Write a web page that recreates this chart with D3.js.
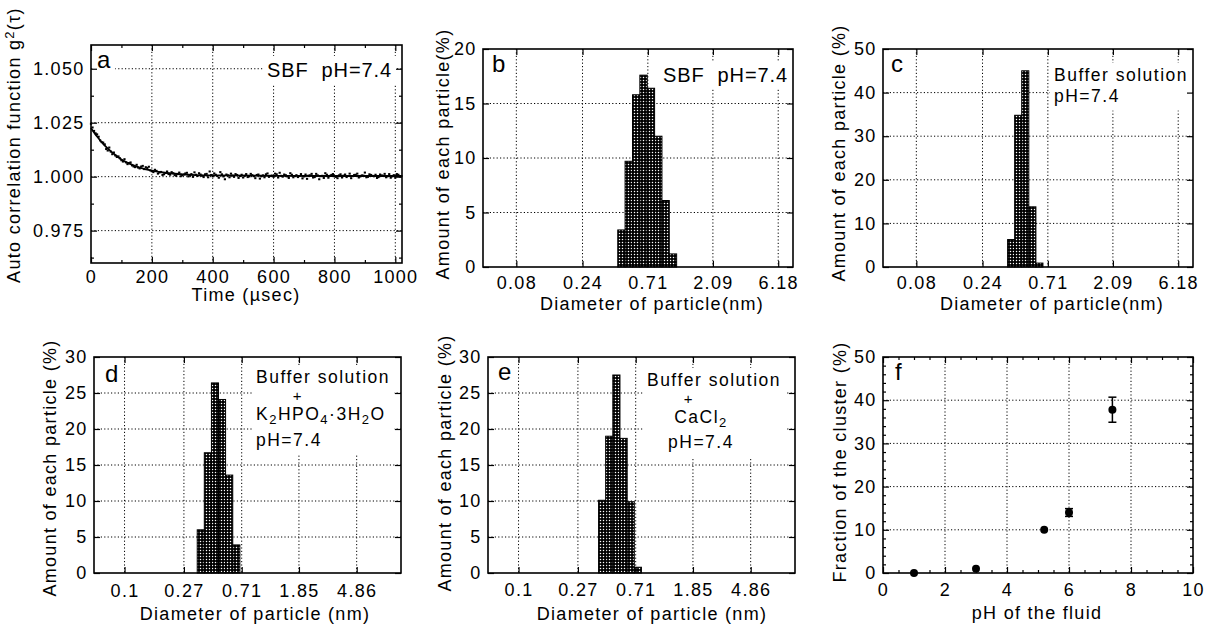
<!DOCTYPE html>
<html>
<head>
<meta charset="utf-8">
<script src="https://cdn.jsdelivr.net/npm/d3@7"></script>
<style>
body { margin: 0; background: #fff; }
text { font-family: "Liberation Sans", Arial, sans-serif; fill: #000; }
</style>
</head>
<body>
<div id="chart"></div>
<script>
var width = 1206,
    height = 629;

// ---- panel a : auto correlation (two interleaved sample sets) ----
var timeUsA = [0, 10, 20, 30, 40, 50, 60, 70, 80, 90, 100, 110, 120, 130, 140, 150, 160, 170, 180, 190,
    200, 210, 220, 230, 240, 250, 260, 270, 280, 290, 300, 310, 320, 330, 340, 350, 360, 370, 380, 390,
    400, 410, 420, 430, 440, 450, 460, 470, 480, 490, 500, 510, 520, 530, 540, 550, 560, 570, 580, 590,
    600, 610, 620, 630, 640, 650, 660, 670, 680, 690, 700, 710, 720, 730, 740, 750, 760, 770, 780, 790,
    800, 810, 820, 830, 840, 850, 860, 870, 880, 890, 900, 910, 920, 930, 940, 950, 960, 970, 980, 990,
    1000, 1010, 1020];
var g2ValuesA = [1.0245, 1.0212, 1.0196, 1.0168, 1.0158, 1.0128, 1.0135, 1.0104, 1.0098, 1.0094,
    1.0076, 1.0081, 1.0058, 1.0066, 1.0047, 1.0055, 1.0038, 1.0050, 1.0044, 1.0046,
    1.0025, 1.0032, 1.0014, 1.0022, 1.0011, 1.0024, 1.0009, 1.0016, 1.0004, 1.0019,
    1.0006, 1.0015, 1.0001, 1.0012, 1.0020, 1.0003, 1.0010, 0.9998, 1.0013, 1.0024,
    1.0002, 1.0009, 0.9995, 1.0011, 0.9988, 1.0006, 1.0014, 0.9999, 1.0008, 1.0003,
    0.9996, 1.0012, 1.0001, 1.0007, 0.9993, 1.0010, 1.0002, 0.9997, 1.0015, 1.0004,
    0.9999, 1.0011, 1.0018, 1.0000, 1.0007, 0.9994, 1.0009, 1.0003, 0.9998, 1.0012,
    1.0001, 0.9990, 1.0006, 0.9996, 1.0013, 0.9988, 1.0004, 1.0016, 0.9995, 1.0008,
    1.0002, 0.9993, 1.0011, 1.0005, 0.9998, 1.0014, 1.0003, 1.0009, 0.9996, 1.0006,
    1.0019, 0.9999, 1.0008, 1.0002, 0.9994, 1.0010, 1.0004, 0.9997, 1.0012, 1.0001,
    0.9995, 1.0009, 1.0003];
var timeUsB = [5, 15, 25, 35, 45, 55, 65, 75, 85, 95, 105, 115, 125, 135, 145, 155, 165, 175, 185, 195,
    205, 215, 225, 235, 245, 255, 265, 275, 285, 295, 305, 315, 325, 335, 345, 355, 365, 375, 385, 395,
    405, 415, 425, 435, 445, 455, 465, 475, 485, 495, 505, 515, 525, 535, 545, 555, 565, 575, 585, 595,
    605, 615, 625, 635, 645, 655, 665, 675, 685, 695, 705, 715, 725, 735, 745, 755, 765, 775, 785, 795,
    805, 815, 825, 835, 845, 855, 865, 875, 885, 895, 905, 915, 925, 935, 945, 955, 965, 975, 985, 995,
    1005, 1015];
var g2ValuesB = [1.0228, 1.0201, 1.0185, 1.0160, 1.0150, 1.0121, 1.0116, 1.0112, 1.0091, 1.0085,
    1.0070, 1.0066, 1.0063, 1.0052, 1.0044, 1.0042, 1.0047, 1.0035, 1.0040, 1.0029,
    1.0021, 1.0027, 1.0019, 1.0008, 1.0017, 1.0012, 1.0021, 1.0007, 1.0013, 1.0002,
    1.0010, 1.0018, 1.0005, 0.9999, 1.0009, 1.0016, 1.0004, 1.0011, 0.9997, 1.0008,
    1.0015, 1.0003, 1.0021, 1.0001, 1.0010, 0.9997, 1.0005, 1.0012, 0.9994, 1.0009,
    1.0004, 0.9998, 1.0013, 1.0002, 1.0008, 0.9991, 1.0006, 1.0011, 0.9999, 1.0005,
    1.0014, 0.9996, 1.0004, 1.0010, 1.0001, 1.0016, 0.9997, 1.0007, 1.0003, 0.9992,
    1.0010, 1.0005, 1.0013, 0.9998, 1.0006, 1.0002, 0.9994, 1.0009, 1.0004, 1.0012,
    0.9999, 1.0006, 0.9996, 1.0010, 1.0003, 0.9993, 1.0008, 1.0014, 1.0001, 1.0005,
    0.9997, 1.0011, 1.0004, 1.0009, 0.9998, 1.0006, 1.0013, 1.0002, 0.9995, 1.0007,
    1.0012, 1.0000];
var fitTimeUs = [0, 20, 40, 60, 80, 100, 130, 160, 200, 250, 300, 400, 600, 800, 1020];
var fitG2 = [1.0225, 1.0186, 1.0152, 1.0124, 1.0100, 1.0080, 1.0058, 1.0042, 1.0028, 1.0017, 1.0011, 1.0006, 1.0004, 1.0003, 1.0003];
var timeTicks = [0, 200, 400, 600, 800, 1000];
var g2Ticks = [0.975, 1.000, 1.025, 1.050];

// ---- panels b-e : size distributions ----
var diamB = [0.458, 0.517, 0.585, 0.661, 0.747, 0.844, 0.953, 1.077];
var amountB = [3.4, 9.7, 15.8, 17.6, 16.4, 12.0, 6.1, 1.2];
var diamC = [0.386, 0.434, 0.488, 0.549, 0.617];
var amountC = [6.3, 34.8, 45.0, 13.8, 0.9];
var diamD = [0.358, 0.403, 0.454, 0.511, 0.576, 0.649];
var amountD = [6.0, 16.7, 26.4, 24.1, 13.6, 3.9];
var diamE = [0.405, 0.456, 0.514, 0.580, 0.653, 0.736];
var amountE = [10.1, 19.0, 27.5, 18.7, 9.9, 0.8];
var diamTicksBC = [0.08, 0.24, 0.71, 2.09, 6.18];
var diamTicksDE = [0.1, 0.27, 0.71, 1.85, 4.86];

// ---- panel f : cluster fraction vs pH ----
var phValues = [1.0, 3.0, 5.2, 6.0, 7.4];
var clusterPct = [0, 1, 10, 14, 37.8];
var clusterErr = [0, 0, 0, 0.9, 2.9];

var FONT = 18,
    SPACING = "1.3px",
    NOTE = 17.5,
    NOTE_SPACING = "1.5px";

var svg = d3.select("#chart")
    .append("svg")
    .attr("width", width)
    .attr("height", height);

var pat = svg.append("defs")
    .append("pattern")
    .attr("id", "dots")
    .attr("patternUnits", "userSpaceOnUse")
    .attr("width", 3)
    .attr("height", 3);
pat.append("rect").attr("width", 3).attr("height", 3).attr("fill", "#000");
pat.append("circle").attr("cx", 1.5).attr("cy", 1.5).attr("r", 0.75).attr("fill", "#fff");

var boxes = {
    a: { left: 91, top: 45, w: 311, h: 218, xPad: 7.5 },
    b: { left: 483, top: 49, w: 310, h: 218, xPad: 9.5 },
    c: { left: 883, top: 49, w: 310, h: 218, xPad: 9.5 },
    d: { left: 94, top: 357, w: 307, h: 216, xPad: 11 },
    e: { left: 488, top: 357, w: 307, h: 216, xPad: 10.5 },
    f: { left: 883, top: 357, w: 310, h: 216, xPad: 10.5 }
};

function panel(box) {
    return svg.append("g").attr("transform", `translate(${box.left},${box.top})`);
}

function styleAxis(sel) {
    sel.attr("font-size", null).attr("font-family", null);
    sel.select(".domain").remove();
    sel.selectAll("line").attr("stroke", "#000").attr("stroke-width", 1.2);
    sel.selectAll("text")
        .style("font-size", FONT + "px")
        .attr("letter-spacing", SPACING)
        .attr("fill", "#000");
}

function drawGrid(g, box, x, y, xGrid, yGrid) {
    var grid = g.append("g");
    grid.selectAll("line.v").data(xGrid).enter().append("line")
        .attr("x1", d => x(d)).attr("x2", d => x(d))
        .attr("y1", 0).attr("y2", box.h)
        .attr("stroke", "#000").attr("stroke-width", 1)
        .attr("stroke-dasharray", "1.2,2.2");
    grid.selectAll("line.h").data(yGrid).enter().append("line")
        .attr("x1", 0).attr("x2", box.w)
        .attr("y1", d => y(d)).attr("y2", d => y(d))
        .attr("stroke", "#000").attr("stroke-width", 1)
        .attr("stroke-dasharray", "1.2,2.2");
}

function drawFrame(g, box, x, y, o) {
    var bottom = g.append("g").attr("transform", `translate(0,${box.h})`)
        .call(d3.axisBottom(x).tickValues(o.xTicks).tickSize(-6).tickPadding(box.xPad).tickFormat(o.xFmt));
    styleAxis(bottom);
    var left = g.append("g")
        .call(d3.axisLeft(y).tickValues(o.yTicks).tickSize(-6).tickPadding(6.5).tickFormat(o.yFmt));
    styleAxis(left);
    var top = g.append("g")
        .call(d3.axisTop(x).tickValues(o.xTicks).tickSize(-6).tickFormat(""));
    styleAxis(top);
    var right = g.append("g").attr("transform", `translate(${box.w},0)`)
        .call(d3.axisRight(y).tickValues(o.yTicks).tickSize(-6).tickFormat(""));
    styleAxis(right);

    if (o.xMinor) {
        [[d3.axisBottom, box.h], [d3.axisTop, 0]].forEach(function (p) {
            var m = g.append("g").attr("transform", `translate(0,${p[1]})`)
                .call(p[0](x).tickValues(o.xMinor).tickSize(-3).tickFormat(""));
            styleAxis(m);
        });
    }
    if (o.yMinor) {
        [[d3.axisLeft, 0], [d3.axisRight, box.w]].forEach(function (p) {
            var m = g.append("g").attr("transform", `translate(${p[1]},0)`)
                .call(p[0](y).tickValues(o.yMinor).tickSize(-3).tickFormat(""));
            styleAxis(m);
        });
    }

    g.append("rect")
        .attr("width", box.w).attr("height", box.h)
        .attr("fill", "none").attr("stroke", "#000").attr("stroke-width", 1.6);
}

// text made of parts: [string, shift] with shift 0 normal, 1 subscript, -1 superscript
function richText(g, x, y, parts, anchor, size, bg, spacing) {
    var t = g.append("text")
        .attr("x", x).attr("y", y)
        .attr("text-anchor", anchor || "start")
        .style("font-size", (size || FONT) + "px")
        .style("white-space", "pre")
        .attr("letter-spacing", spacing || "0.9px");
    parts.forEach(function (p) {
        var s = t.append("tspan").text(p[0]);
        if (p[1] == 1) s.attr("baseline-shift", "-30%").style("font-size", Math.round((size || FONT) * 0.75) + "px");
        if (p[1] == -1) s.attr("baseline-shift", "45%").style("font-size", Math.round((size || FONT) * 0.7) + "px");
    });
    if (bg) {
        var b = t.node().getBBox();
        g.insert("rect", function () { return t.node(); })
            .attr("x", b.x - 4).attr("y", b.y - 3)
            .attr("width", b.width + 8).attr("height", b.height + 6)
            .attr("fill", "#fff");
    }
    return t;
}

// several lines of notes sharing one white box that hides the grid
function noteBlock(g, lines) {
    var ann = g.append("g");
    var bgRect = ann.append("rect").attr("fill", "#fff");
    lines.forEach(function (l) {
        richText(ann, l.x, l.y, l.parts, l.anchor, l.size || NOTE, false, NOTE_SPACING);
    });
    var bb = ann.node().getBBox();
    bgRect.attr("x", bb.x - 4).attr("y", bb.y - 2).attr("width", bb.width + 8).attr("height", bb.height + 7);
}

function axisTitle(x, y, parts, rotate) {
    var g = svg.append("g").attr("transform", `translate(${x},${y})` + (rotate ? " rotate(-90)" : ""));
    richText(g, 0, 0, parts, "middle", FONT, false, SPACING).attr("dy", "0.36em");
}

function drawBars(g, x, y, diam, amount, ratio) {
    var half = Math.sqrt(ratio);
    g.append("g").selectAll("rect")
        .data(diam.map((d, i) => ({ d: d, v: amount[i] })))
        .enter().append("rect")
        .attr("x", p => x(p.d / half))
        .attr("width", p => x(p.d * half) - x(p.d / half))
        .attr("y", p => y(p.v))
        .attr("height", p => y(0) - y(p.v))
        .attr("fill", "url(#dots)")
        .attr("stroke", "#000")
        .attr("stroke-width", 1);
}

var fmtDiam = d => String(d);

// ---------- panel a ----------
(function () {
    var box = boxes.a;
    var g = panel(box);
    var x = d3.scaleLinear().domain([0, 1022]).range([0, box.w]);
    var y = d3.scaleLinear().domain([0.96, 1.061]).range([box.h, 0]);
    drawGrid(g, box, x, y, timeTicks.slice(1), g2Ticks);

    var pts = timeUsA.map((t, i) => [t, g2ValuesA[i]])
        .concat(timeUsB.map((t, i) => [t, g2ValuesB[i]]))
        .filter(d => d[1] !== undefined);
    g.append("g").selectAll("rect")
        .data(pts)
        .enter().append("rect")
        .attr("x", d => x(d[0]) - 1.1)
        .attr("y", d => y(d[1]) - 1)
        .attr("width", 2.2).attr("height", 2)
        .attr("fill", "#000");

    var line = d3.line().curve(d3.curveMonotoneX).x(d => x(d[0])).y(d => y(d[1]));
    g.append("path")
        .datum(fitTimeUs.map((t, i) => [t, fitG2[i]]))
        .attr("d", line)
        .attr("fill", "none").attr("stroke", "#000").attr("stroke-width", 1.8);

    richText(g, 6, 23, [["a", 0]], "start", 24, true);
    richText(g, 301, 32, [["SBF  pH=7.4", 0]], "end", 20, true);

    drawFrame(g, box, x, y, {
        xTicks: timeTicks, yTicks: g2Ticks,
        xMinor: [100, 300, 500, 700, 900],
        yMinor: [0.9625, 0.9875, 1.0125, 1.0375],
        xFmt: d => String(d), yFmt: d3.format(".3f")
    });
    axisTitle(246, 295, [["Time (\u00b5sec)", 0]], false);
    axisTitle(14, 145, [["Auto correlation function g", 0], ["2", -1], ["(\u03c4)", 0]], true);
})();

// ---------- panel b ----------
(function () {
    var box = boxes.b;
    var g = panel(box);
    var x = d3.scaleLog().domain([0.046, 7.9]).range([0, box.w]);
    var y = d3.scaleLinear().domain([0, 20]).range([box.h, 0]);
    drawGrid(g, box, x, y, diamTicksBC, [5, 10, 15]);
    drawBars(g, x, y, diamB, amountB, 1.130);
    richText(g, 9, 23, [["b", 0]], "start", 24, true);
    richText(g, 305, 33, [["SBF  pH=7.4", 0]], "end", 20, true);
    drawFrame(g, box, x, y, {
        xTicks: diamTicksBC, yTicks: [0, 5, 10, 15, 20],
        xFmt: fmtDiam, yFmt: d => String(d)
    });
    axisTitle(652, 304, [["Diameter of particle(nm)", 0]], false);
    axisTitle(443, 154, [["Amount of each particle(%)", 0]], true);
})();

// ---------- panel c ----------
(function () {
    var box = boxes.c;
    var g = panel(box);
    var x = d3.scaleLog().domain([0.046, 7.9]).range([0, box.w]);
    var y = d3.scaleLinear().domain([0, 50]).range([box.h, 0]);
    drawGrid(g, box, x, y, diamTicksBC, [10, 20, 30, 40]);
    drawBars(g, x, y, diamC, amountC, 1.125);
    richText(g, 8, 23, [["c", 0]], "start", 24, true);
    noteBlock(g, [
        { x: 171, y: 32, parts: [["Buffer solution", 0]], anchor: "start" },
        { x: 171, y: 52.5, parts: [["pH=7.4", 0]], anchor: "start" }
    ]);
    drawFrame(g, box, x, y, {
        xTicks: diamTicksBC, yTicks: [0, 10, 20, 30, 40, 50],
        xFmt: fmtDiam, yFmt: d => String(d)
    });
    axisTitle(1052, 304, [["Diameter of particle(nm)", 0]], false);
    axisTitle(839, 153, [["Amount of each particle (%)", 0]], true);
})();

// ---------- panel d ----------
(function () {
    var box = boxes.d;
    var g = panel(box);
    var x = d3.scaleLog().domain([0.06, 10.2]).range([0, box.w]);
    var y = d3.scaleLinear().domain([0, 30]).range([box.h, 0]);
    drawGrid(g, box, x, y, diamTicksDE, [5, 10, 15, 20, 25]);
    drawBars(g, x, y, diamD, amountD, 1.126);
    richText(g, 11, 25, [["d", 0]], "start", 24, true);
    noteBlock(g, [
        { x: 162, y: 26, parts: [["Buffer solution", 0]], anchor: "start" },
        { x: 204, y: 43.5, parts: [["+", 0]], anchor: "middle", size: 15 },
        { x: 162, y: 63, parts: [["K", 0], ["2", 1], ["HPO", 0], ["4", 1], ["\u00b73H", 0], ["2", 1], ["O", 0]], anchor: "start" },
        { x: 162, y: 89, parts: [["pH=7.4", 0]], anchor: "start" }
    ]);
    drawFrame(g, box, x, y, {
        xTicks: diamTicksDE, yTicks: [0, 5, 10, 15, 20, 25, 30],
        xFmt: fmtDiam, yFmt: d => String(d)
    });
    axisTitle(255, 614, [["Diameter of particle (nm)", 0]], false);
    axisTitle(50, 468, [["Amount of each particle (%)", 0]], true);
})();

// ---------- panel e ----------
(function () {
    var box = boxes.e;
    var g = panel(box);
    var x = d3.scaleLog().domain([0.06, 10.2]).range([0, box.w]);
    var y = d3.scaleLinear().domain([0, 30]).range([box.h, 0]);
    drawGrid(g, box, x, y, diamTicksDE, [5, 10, 15, 20, 25]);
    drawBars(g, x, y, diamE, amountE, 1.127);
    richText(g, 10, 23, [["e", 0]], "start", 24, true);
    noteBlock(g, [
        { x: 226, y: 29, parts: [["Buffer solution", 0]], anchor: "middle" },
        { x: 201, y: 46.5, parts: [["+", 0]], anchor: "middle", size: 15 },
        { x: 213, y: 66, parts: [["CaCl", 0], ["2", 1]], anchor: "middle" },
        { x: 213, y: 91, parts: [["pH=7.4", 0]], anchor: "middle" }
    ]);
    drawFrame(g, box, x, y, {
        xTicks: diamTicksDE, yTicks: [0, 5, 10, 15, 20, 25, 30],
        xFmt: fmtDiam, yFmt: d => String(d)
    });
    axisTitle(652, 614, [["Diameter of particle (nm)", 0]], false);
    axisTitle(445, 463, [["Amount of each particle (%)", 0]], true);
})();

// ---------- panel f ----------
(function () {
    var box = boxes.f;
    var g = panel(box);
    var x = d3.scaleLinear().domain([0, 10]).range([0, box.w]);
    var y = d3.scaleLinear().domain([0, 50]).range([box.h, 0]);
    drawGrid(g, box, x, y, [2, 4, 6, 8], [10, 20, 30, 40]);

    var pts = phValues.map((p, i) => ({ p: p, v: clusterPct[i], e: clusterErr[i] }));
    var eb = g.append("g").selectAll("g").data(pts.filter(d => d.e > 0)).enter().append("g");
    eb.append("line")
        .attr("x1", d => x(d.p)).attr("x2", d => x(d.p))
        .attr("y1", d => y(d.v - d.e)).attr("y2", d => y(d.v + d.e))
        .attr("stroke", "#000").attr("stroke-width", 1.5);
    eb.append("line")
        .attr("x1", d => x(d.p) - 4).attr("x2", d => x(d.p) + 4)
        .attr("y1", d => y(d.v + d.e)).attr("y2", d => y(d.v + d.e))
        .attr("stroke", "#000").attr("stroke-width", 1.5);
    eb.append("line")
        .attr("x1", d => x(d.p) - 4).attr("x2", d => x(d.p) + 4)
        .attr("y1", d => y(d.v - d.e)).attr("y2", d => y(d.v - d.e))
        .attr("stroke", "#000").attr("stroke-width", 1.5);

    g.append("g").selectAll("circle").data(pts).enter().append("circle")
        .attr("cx", d => x(d.p)).attr("cy", d => y(d.v))
        .attr("r", 4).attr("fill", "#000");

    richText(g, 12, 23, [["f", 0]], "start", 24, false);
    drawFrame(g, box, x, y, {
        xTicks: [0, 2, 4, 6, 8, 10], yTicks: [0, 10, 20, 30, 40, 50],
        xMinor: d3.range(0.5, 10, 0.5).filter(v => v % 2 != 0),
        yMinor: d3.range(2, 50, 2).filter(v => v % 10 != 0),
        xFmt: d => String(d), yFmt: d => String(d)
    });
    axisTitle(1037, 613, [["pH of the fluid", 0]], false);
    axisTitle(840, 462, [["Fraction of the cluster (%)", 0]], true);
})();
</script>
</body>
</html>
